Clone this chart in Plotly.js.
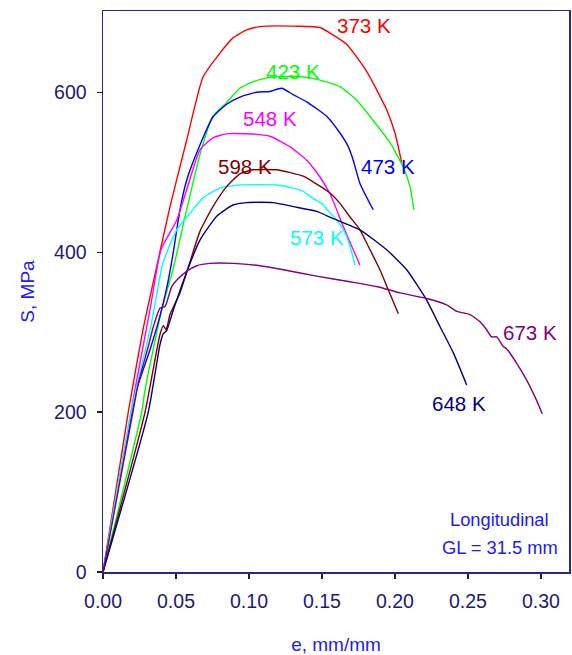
<!DOCTYPE html>
<html>
<head>
<meta charset="utf-8">
<script src="https://cdn.plot.ly/plotly-3.0.1.min.js"></script>
<style>html,body{margin:0;padding:0;background:#fff;}#chart{width:572px;height:655px;}</style>
</head>
<body>
<div id="chart"></div>
<script>
// Strain (mm/mm) and stress (MPa), one pair of arrays per temperature
const e373 = [0, 0.0173, 0.0274, 0.0368, 0.0459, 0.0573, 0.0685, 0.0801, 0.089, 0.0984, 0.1075, 0.119, 0.1486, 0.1555, 0.1669, 0.1806, 0.1943, 0.2, 0.2046];
const s373 = [0, 200, 303, 382, 457, 540, 619, 649, 668, 678, 682, 683, 681, 674, 660, 626, 578, 549, 512];

const e423 = [0, 0.0265, 0.0288, 0.0402, 0.0479, 0.0573, 0.0664, 0.0753, 0.0847, 0.0938, 0.1027, 0.1121, 0.1303, 0.1418, 0.1532, 0.1623, 0.1738, 0.1849, 0.1966, 0.2055, 0.2103, 0.2130];
const s423 = [0, 200, 228, 328, 378, 453, 522, 570, 587, 605, 613, 618, 620, 618, 613, 607, 590, 565, 537, 507, 482, 453];

const e473 = [0, 0.0231, 0.0322, 0.039, 0.0436, 0.0479, 0.0527, 0.0573, 0.0664, 0.0753, 0.0847, 0.0938, 0.1053, 0.1144, 0.1224, 0.1303, 0.1395, 0.1532, 0.1623, 0.168, 0.1714, 0.176, 0.1851];
const s473 = [0, 228, 278, 320, 355, 397, 453, 490, 534, 569, 585, 594, 600, 601, 605, 597, 588, 570, 549, 532, 515, 486, 453];

const e548 = [0, 0.0219, 0.0322, 0.0397, 0.0505, 0.0573, 0.0664, 0.0753, 0.0847, 0.0984, 0.1075, 0.1144, 0.128, 0.1395, 0.1486, 0.1555, 0.1646, 0.1714, 0.176];
const s548 = [0, 228, 328, 403, 440, 478, 528, 543, 548, 548, 547, 545, 532, 515, 494, 473, 432, 403, 384];

const e573 = [0, 0.0192, 0.0322, 0.0349, 0.0411, 0.0505, 0.0596, 0.0685, 0.0801, 0.0938, 0.119, 0.1303, 0.1372, 0.144, 0.1498, 0.1555, 0.1601, 0.1658, 0.1692, 0.1726];
const s573 = [0, 200, 303, 328, 387, 428, 449, 468, 480, 484, 484, 480, 476, 467, 461, 449, 440, 424, 407, 384];

const e598 = [0, 0.0288, 0.039, 0.0413, 0.0432, 0.0459, 0.0527, 0.0596, 0.0664, 0.0753, 0.0847, 0.0938, 0.1027, 0.119, 0.1372, 0.1464, 0.1555, 0.1623, 0.1692, 0.176, 0.1829, 0.1897, 0.1954, 0.2023];
const s598 = [0, 200, 297, 308, 303, 322, 349, 388, 426, 457, 482, 498, 503, 503, 495, 485, 474, 461, 444, 428, 403, 378, 353, 323];

const e648 = [0, 0.031, 0.039, 0.0413, 0.0436, 0.0482, 0.0573, 0.0664, 0.0779, 0.089, 0.0984, 0.1166, 0.1303, 0.1464, 0.1577, 0.176, 0.1943, 0.208, 0.2217, 0.2308, 0.24, 0.2491];
const s648 = [0, 200, 284, 298, 302, 328, 375, 415, 445, 459, 462, 462, 457, 451, 442, 428, 403, 378, 340, 307, 274, 234];

const e673 = [0, 0.0205, 0.0242, 0.031, 0.0345, 0.039, 0.0425, 0.0471, 0.0516, 0.0573, 0.0642, 0.0733, 0.0893, 0.1075, 0.1235, 0.1464, 0.1692, 0.1875, 0.2034, 0.2217, 0.2354, 0.2423, 0.2514, 0.2582, 0.2628, 0.2662, 0.2697, 0.2742, 0.2765, 0.2834, 0.2902, 0.2959, 0.3009];
const s673 = [0, 200, 236, 282, 307, 330, 332, 357, 367, 376, 383, 386, 386, 383, 378, 370, 363, 357, 349, 342, 334, 326, 322, 313, 303, 294, 294, 282, 279, 261, 240, 219, 198];

const seriesNames = ["373 K", "423 K", "473 K", "548 K", "573 K", "598 K", "648 K", "673 K"];
const seriesColors = ["#ff0000", "#00ff00", "#0000ff", "#ff00ff", "#00ffff", "#800000", "#000080", "#800080"];
const seriesX = [e373, e423, e473, e548, e573, e598, e648, e673];
const seriesY = [s373, s423, s473, s548, s573, s598, s648, s673];

// Label anchor positions (data coords)
const labelX = [0.179, 0.130, 0.1952, 0.1144, 0.1469, 0.0973, 0.2438, 0.2925];
const labelY = [684, 626, 507, 567, 418, 507, 211, 299];

const xTicks = [0, 0.05, 0.10, 0.15, 0.20, 0.25, 0.30];
const xTickText = ["0.00", "0.05", "0.10", "0.15", "0.20", "0.25", "0.30"];
const yTicks = [0, 200, 400, 600];

const noteTexts = ["Longitudinal", "GL = 31.5 mm"];

const FONT = "Liberation Sans, Arial, sans-serif";
const L = 103, R = 569, T = 11, B = 572;

const traces = seriesNames.map((n, i) => ({
  x: seriesX[i], y: seriesY[i], type: "scatter", mode: "lines", name: n,
  line: {color: seriesColors[i], width: 1.4, shape: "spline", smoothing: 0.5},
  hoverinfo: "skip"
}));

const annotations = seriesNames.map((n, i) => ({
  x: labelX[i], y: labelY[i], xref: "x", yref: "y", text: n, showarrow: false,
  font: {family: FONT, size: 20.5, color: seriesColors[i]}, xanchor: "center", yanchor: "middle"
}));
// corner notes, positioned in paper coordinates
annotations.push({x: (499 - L) / (R - L), y: (B - 519) / (B - T), xref: "paper", yref: "paper",
  text: noteTexts[0], showarrow: false, xanchor: "center", yanchor: "middle",
  font: {family: FONT, size: 18.3, color: "#1a1aff"}});
annotations.push({x: (500 - L) / (R - L), y: (B - 547) / (B - T), xref: "paper", yref: "paper",
  text: noteTexts[1], showarrow: false, xanchor: "center", yanchor: "middle",
  font: {family: FONT, size: 18.3, color: "#1a1aff"}});

const layout = {
  width: 572, height: 655,
  margin: {l: L, r: 572 - R, t: T, b: 655 - B, pad: 0},
  paper_bgcolor: "#ffffff", plot_bgcolor: "#ffffff",
  showlegend: false,
  font: {family: FONT, size: 19, color: "#1a1a7a"},
  xaxis: {
    range: [0, 0.3192], tickvals: xTicks, ticktext: xTickText,
    ticks: "outside", ticklen: 5, tickwidth: 1.2, tickcolor: "#222",
    showline: true, linecolor: "#28288c", linewidth: 1.5, mirror: true,
    showgrid: false, zeroline: false,
    tickfont: {family: FONT, size: 19.5, color: "#1a1a7a"},
    ticklabelstandoff: 6,
    title: {text: "e, mm/mm", font: {family: FONT, size: 19, color: "#1a1aff"}, standoff: 27}
  },
  yaxis: {
    range: [0, 701.6], tickvals: yTicks,
    ticks: "outside", ticklen: 5, tickwidth: 1.2, tickcolor: "#222",
    showline: true, linecolor: "#28288c", linewidth: 1.5, mirror: true,
    showgrid: false, zeroline: false,
    tickfont: {family: FONT, size: 19.5, color: "#1a1a7a"},
    ticklabelstandoff: 6,
    title: {text: "S, MPa", font: {family: FONT, size: 19, color: "#1a1aff"}, standoff: 14}
  },
  annotations: annotations
};

Plotly.newPlot("chart", traces, layout, {staticPlot: true, displayModeBar: false});
</script>
</body>
</html>
